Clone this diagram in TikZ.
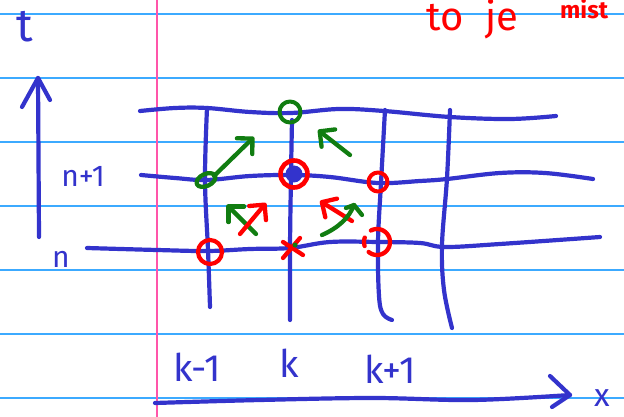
\documentclass[tikz,border=0pt]{standalone}
\usepackage{fontspec}
\setmainfont{Fira Sans}
\usetikzlibrary{arrows.meta}
\definecolor{ink}{RGB}{51,51,204}
\definecolor{inkred}{RGB}{255,0,0}
\definecolor{inkgreen}{RGB}{17,125,17}
\definecolor{ruled}{RGB}{60,170,255}
\definecolor{margin}{RGB}{255,85,170}
\begin{document}
\begin{tikzpicture}[x=1pt,y=-1pt,line cap=round,line join=round,
  paper/.style={ruled,line width=1.5pt},
  pen/.style={ink,line width=4.2pt},
  redpen/.style={inkred,line width=4.3pt},
  greenpen/.style={inkgreen,line width=4.3pt},
  barbtip/.style={-{Straight Barb[length=11pt,width=22pt,round]}},
  lab/.style={ink,anchor=base,inner sep=0pt,font=\fontsize{38}{40}\selectfont},
  redlab/.style={inkred,anchor=base west,inner sep=0pt},
  ring/.style={circle,inner sep=0pt}]
\useasboundingbox (0,0) rectangle (624,417);
\fill[white] (0,0) rectangle (624,417);
% ruled paper
\foreach \yy in {14,78,142,206,270,334,398}
  \draw[paper] (0,\yy) -- (624,\yy);
\draw[margin,line width=1.9pt] (157,0) -- (157,417);

% grid: time levels
\draw[pen] plot[smooth,tension=0.6] coordinates {(140,111) (175,108) (207,108) (250,112) (291,113) (339,109) (384,111) (450,117) (510,119) (556,116)};
\draw[pen] plot[smooth,tension=0.6] coordinates {(141,175) (175,178) (207,180) (250,176) (293,175) (330,177) (378,183) (420,181) (447,179) (500,173) (545,173) (593,179)};
\draw[pen] plot[smooth,tension=0.6] coordinates {(87,248) (157,250) (208,251) (250,249) (290,248) (330,242) (378,242) (420,243) (445,247) (500,244) (600,237)};
% grid: space points
\draw[pen] plot[smooth,tension=0.6] coordinates {(207,108) (205,180) (208,250) (210,307)};
\draw[pen] plot[smooth,tension=0.6] coordinates {(292,120) (291,175) (290,248) (290,320)};
\draw[pen] plot[smooth,tension=0.6] coordinates {(385,110) (381,183) (378,242) (379,296) (383,314) (392,320)};
\draw[pen] plot[smooth,tension=0.6] coordinates {(450,110) (447,178) (442,245) (444,290) (452,328)};

% t axis
\coordinate (t0) at (39,237);
\coordinate (t1) at (38,78);
\coordinate (tb1) at (22,107);
\coordinate (tb2) at (50,100);
\draw[pen] (t0) -- (t1);
\draw[pen] (tb1) -- (t1) -- (tb2);
\node[lab,font=\fontsize{46}{48}\selectfont] (tlab) at (25,42) {t};
\node[lab,font=\fontsize{30}{32}\selectfont] (nplab) at (83,186) {n+1};
\node[lab,font=\fontsize{30}{32}\selectfont] (nlab) at (61,267) {n};

% x axis
\coordinate (x0) at (155,403);
\coordinate (x1) at (570,395);
\coordinate (xb1) at (550,376);
\coordinate (xb2) at (552,407);
\draw[pen] plot[smooth,tension=0.6] coordinates {(x0) (260,400) (373,398) (473,400) (x1)};
\draw[pen] (xb1) -- (x1) -- (xb2);
\node[lab,font=\fontsize{32}{33}\selectfont] (xlab) at (602,406) {x};
\node[lab] (k1lab) at (197,381) {k-1};
\node[lab] (klab) at (289,377) {k};
\node[lab] (kp1lab) at (390,383) {k+1};

% stencil marks
\node[ring,draw=inkgreen,line width=4pt,minimum size=21pt] (gtop) at (290,112) {};
\node[ring,draw=inkred,line width=4.6pt,minimum size=27pt] (rcen) at (294,174) {};
\fill[ink] (rcen.center) circle[radius=8.5pt];
\coordinate (gsm) at (206,180);
\draw[greenpen] (gsm) ellipse[x radius=10pt,y radius=6pt,rotate=25];
\node[ring,draw=inkred,line width=4pt,minimum size=19pt] (rsm) at (378,182) {};
\node[ring,draw=inkred,line width=4.2pt,minimum size=24pt] (rbl) at (210,252) {};
\coordinate (rbr) at (377,242);
\draw[redpen] plot[smooth,domain=-130:118,samples=40,variable=\t] ({377+13*cos(\t)},{242-13*sin(\t)});
\draw[redpen] plot[smooth,domain=160:198,samples=8,variable=\t] ({377+13*cos(\t)},{242-13*sin(\t)});
\coordinate (rx) at (292,247);
\draw[redpen] ([shift={(-9,-5)}]rx) -- ([shift={(11,8)}]rx);
\draw[redpen] ([shift={(8,-9)}]rx) -- ([shift={(-9,11)}]rx);
\fill[inkgreen] (295,245) circle[radius=2.5pt];

% arrows
\coordinate (ga1s) at (214,176);
\coordinate (ga1e) at (254,137);
\draw[greenpen,barbtip] (ga1s) -- (ga1e);
\coordinate (ga2s) at (350,155);
\coordinate (ga2e) at (318,130);
\draw[greenpen,barbtip] (ga2s) -- (ga2e);
\coordinate (ga3s) at (256,234);
\coordinate (ga3e) at (227,205);
\draw[greenpen,barbtip] (ga3s) -- (ga3e);
\coordinate (ra1s) at (240,234);
\coordinate (ra1e) at (266,203);
\draw[redpen,barbtip] (ra1s) -- (ra1e);
\coordinate (ra2s) at (352,221);
\coordinate (ra2e) at (320,201);
\draw[redpen,barbtip] (ra2s) -- (ra2e);
\coordinate (ga4s) at (322,235);
\coordinate (ga4e) at (354,205);
\draw[greenpen] (ga4s) .. controls (338,228) and (349,218) .. (ga4e) -- (362,215);
\draw[greenpen] (ga4e) -- (346,208);

% red notes
\node[redlab,font=\fontsize{40}{42}\selectfont] (note) at (426,31) {to\hspace{22pt}je};
\node[redlab,font=\fontsize{24}{26}\selectfont\bfseries] (mist) at (560,19) {mist};
\end{tikzpicture}
\end{document}
